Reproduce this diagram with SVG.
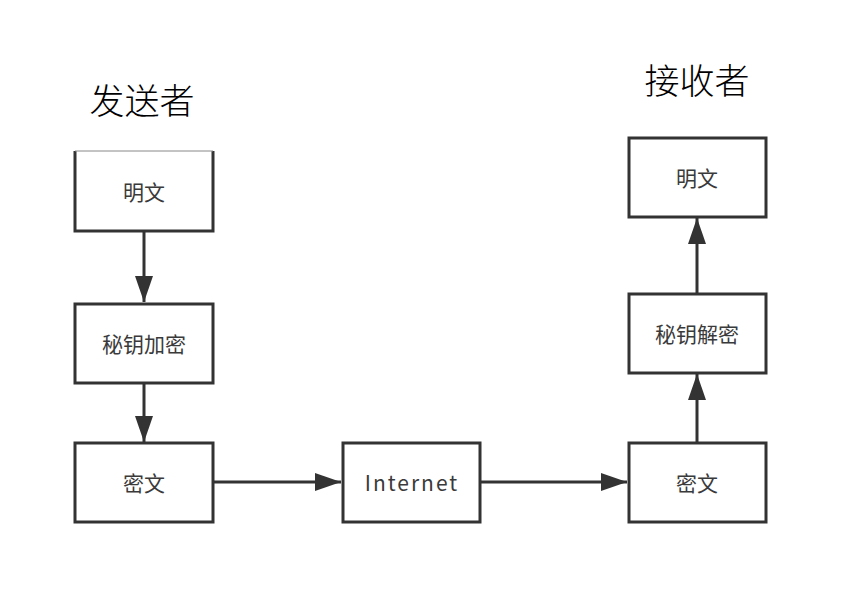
<svg xmlns="http://www.w3.org/2000/svg" width="842" height="598" viewBox="0 0 842 598">
<style>
.box{fill:#fff;stroke:#333;stroke-width:3}
.lbl{font-family:"Noto Sans CJK SC","Microsoft YaHei",sans-serif;font-size:21px;fill:#3a3a3a;text-anchor:middle;dominant-baseline:central}
.title{font-family:"Noto Sans CJK SC",serif;font-size:35px;font-weight:300;fill:#000;text-anchor:middle}
.conn{stroke:#333;stroke-width:3;fill:none}
</style>
<defs>
<marker id="arr" viewBox="0 0 26 18" refX="26" refY="9" markerWidth="26" markerHeight="18" markerUnits="userSpaceOnUse" orient="auto">
<path d="M0,0 L26,9 L0,18 Z" fill="#333"/>
</marker>
</defs>
<rect width="842" height="598" fill="#fff"/>
<text class="title" x="142" y="114">发送者</text>
<text class="title" x="697" y="94">接收者</text>
<g id="conns">
<line class="conn" x1="144" y1="232" x2="144" y2="302" marker-end="url(#arr)"/>
<line class="conn" x1="144" y1="384" x2="144" y2="442" marker-end="url(#arr)"/>
<line class="conn" x1="214" y1="482" x2="341" y2="482" marker-end="url(#arr)"/>
<line class="conn" x1="480" y1="482" x2="627" y2="482" marker-end="url(#arr)"/>
<line class="conn" x1="697" y1="443" x2="697" y2="374" marker-end="url(#arr)"/>
<line class="conn" x1="697" y1="293" x2="697" y2="218" marker-end="url(#arr)"/>
</g>
<g id="s_plain">
<rect x="75" y="151" width="138" height="80" fill="#fff"/>
<path d="M75,151 V231 H213 V151" class="conn"/>
<line x1="75" y1="151" x2="213" y2="151" stroke="#888" stroke-width="1"/>
<text class="lbl" x="144" y="191">明文</text>
</g>
<g id="s_enc">
<rect class="box" x="75" y="304" width="138" height="79"/>
<text class="lbl" x="144" y="343">秘钥加密</text>
</g>
<g id="s_cipher">
<rect class="box" x="75" y="443" width="138" height="79"/>
<text class="lbl" x="144" y="482">密文</text>
</g>
<g id="internet">
<rect class="box" x="343" y="443" width="137" height="79"/>
<text class="lbl" x="412" y="482" letter-spacing="2">Internet</text>
</g>
<g id="r_cipher">
<rect class="box" x="629" y="443" width="137" height="79"/>
<text class="lbl" x="697" y="482">密文</text>
</g>
<g id="r_dec">
<rect class="box" x="629" y="294" width="137" height="79"/>
<text class="lbl" x="697" y="333">秘钥解密</text>
</g>
<g id="r_plain">
<rect class="box" x="629" y="138" width="137" height="79"/>
<text class="lbl" x="697" y="177">明文</text>
</g>
</svg>
